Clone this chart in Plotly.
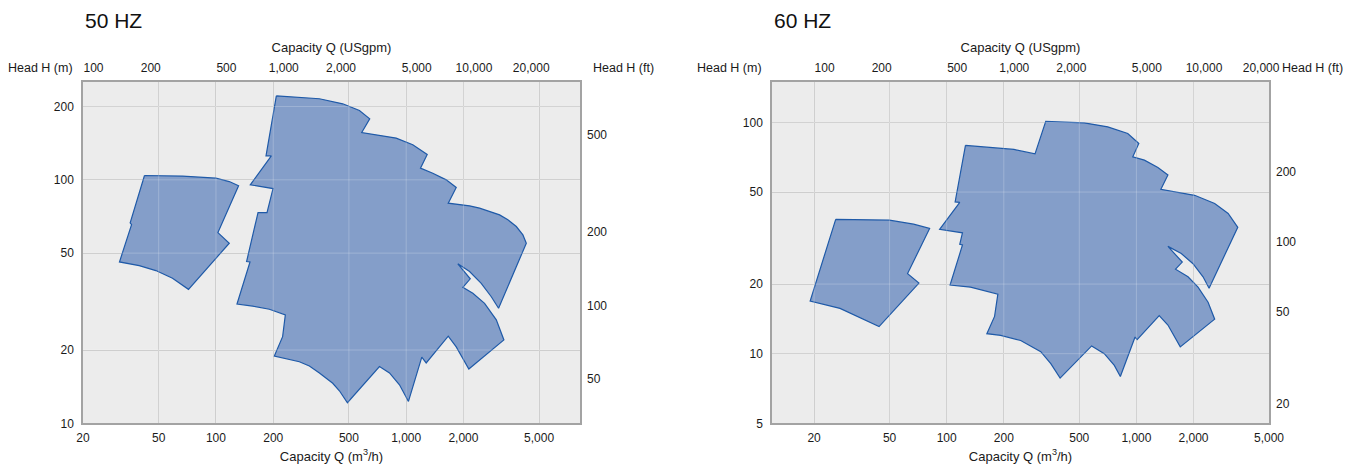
import math
import plotly.graph_objects as go

# ---------------- data (Q in m3/h, H in m) ----------------
# 50 Hz - small range
Q50_A = [42.1, 66.7, 100, 117.5, 131.5, 102.4, 117.5, 71.7, 59.1, 48.3, 39.5, 31.1, 36.0, 35.4]
H50_A = [104.2, 103.6, 101.6, 98.4, 94.5, 60.7, 54.9, 35.5, 39.4, 42.4, 44.4, 46.0, 65.5, 66.6]
# 50 Hz - large range
Q50_B = [207.7, 274.4, 349.8, 463.8, 567.9, 643.3, 583.9, 885.9, 1083, 1290, 1189, 1380, 1624,
         1833, 1664, 2154, 2431, 3098, 3425, 3793, 4108, 4281, 3060, 2802, 2481, 2154, 1869, 2172,
         1986, 2241, 2583, 2977, 3264, 2135, 1986, 1833, 1664, 1274, 1208, 1028, 922, 817, 723.7,
         491, 445.6, 411, 349.8, 309.8, 274.4, 243.1, 202.7, 224.1, 231.6, 190.8, 155.8, 129,
         151, 144.9, 166.4, 185.5, 199.5, 151.5, 195.5, 183.3]
H50_B = [221.4, 218.8, 215.3, 205.3, 192.7, 178.1, 156.5, 148.4, 139.3, 127.1, 111.7, 106.5, 100,
         93.0, 80.2, 78.2, 76.5, 71.8, 68.5, 64.3, 59.4, 54.9, 29.7, 33.1, 37.6, 42.0, 45.2, 39.2,
         36.2, 34.2, 31.1, 26.6, 22.0, 16.7, 18.5, 20.6, 22.8, 17.7, 18.7, 12.3, 14.4, 16.1, 17.1,
         12.15, 13.6, 14.6, 16.1, 17.2, 17.9, 18.3, 18.9, 22.7, 27.9, 29.4, 30.3, 30.9,
         46.0, 46.2, 73.4, 73.4, 92.1, 95.4, 125.5, 125.5]
# 60 Hz - small range
Q60_A = [26.0, 37.9, 49.9, 66.9, 81.3, 62.2, 71.4, 44.0, 34.9, 27.4, 19.07]
H60_A = [38.1, 38.0, 37.8, 36.3, 34.8, 22.2, 20.2, 13.1, 14.3, 15.7, 16.9]
# 60 Hz - large range
Q60_B = [125.6, 192.4, 226.2, 292.2, 332.8, 530.7, 706, 900.4, 1030, 957, 1102, 1298, 1466, 1346,
         2027, 2586, 3045, 3423, 2416, 2245, 1988, 1724, 1466, 1745, 1608, 1871, 2113, 2387, 2586,
         1703, 1589, 1466, 1319, 1009, 984, 823, 764.9, 677.1, 580.8, 396.2, 353.8, 313.2, 245.5,
         192.4, 162.8, 178.8, 186.1, 133.5, 104.2, 121.1, 117.2, 121.1, 91.8, 117.2, 110.8]
H60_B = [79.5, 77.4, 76.4, 73.1, 101.0, 99.6, 95.7, 89.6, 81.1, 71.0, 68.7, 63.9, 59.3, 51.4,
         48.4, 44.6, 40.4, 35.2, 19.2, 21.5, 24.5, 27.1, 29.1, 24.9, 23.2, 21.5, 19.4, 16.7, 14.1,
         10.7, 11.8, 13.3, 14.6, 11.5, 11.8, 7.97, 8.9, 10.0, 10.8, 7.84, 9.05, 10.2, 11.4,
         12.0, 12.2, 14.5, 18.1, 19.4, 19.8, 29.5, 29.7, 33.3, 34.5, 45.1, 45.3]

# axis ranges
Q50_RANGE = [20, 8200]
H50_RANGE = [10, 253]
Q60_RANGE = [12, 5000]
H60_RANGE = [5, 150]

# ticks
Q_TICKS = [20, 50, 100, 200, 500, 1000, 2000, 5000]
Q_TEXT = ["20", "50", "100", "200", "500", "1,000", "2,000", "5,000"]
GPM_TICKS = [100, 200, 500, 1000, 2000, 5000, 10000, 20000]
GPM_TEXT = ["100", "200", "500", "1,000", "2,000", "5,000", "10,000", "20,000"]
H50_TICKS = [10, 20, 50, 100, 200]
H60_TICKS = [5, 10, 20, 50, 100]
FT50_TICKS = [50, 100, 200, 500]
FT60_TICKS = [20, 50, 100, 200]

M3H_TO_GPM = 4.402868
M_TO_FT = 3.28084

# ---------------- styles ----------------
FONT = "Liberation Sans, Arial, Helvetica, sans-serif"
TXT = "#1a1a1a"
BG = "#ececec"
GRID = "#c8c8c8"
GRID_OVER = "rgba(255,255,255,0.22)"
FILL = "#849ec9"
EDGE = "#1f5aa8"
BOX = "#a3a3a3"

# the page body adds an 8px offset, so the figure is 8px smaller than the window
OFF = 8
W, H = 1359 - OFF, 467 - OFF


def px(sx):
    return (sx - OFF) / W


def py(sy):
    return 1 - (sy - OFF) / H


XD1 = [px(83), px(580)]
XD2 = [px(772), px(1269)]
YD = [py(423.3), py(81.7)]

lg = math.log10

fig = go.Figure()


def add_poly(q, h, xa, ya):
    fig.add_trace(go.Scatter(x=q + [q[0]], y=h + [h[0]], xaxis=xa, yaxis=ya,
                             mode="lines", fill="toself", fillcolor=FILL,
                             line=dict(color=EDGE, width=1.2), hoverinfo="skip",
                             showlegend=False))


def add_grid_over(qt, ht, qr, hr, xa, ya):
    xs, ys = [], []
    for v in qt:
        if qr[0] < v < qr[1]:
            xs += [v, v, None]
            ys += [hr[0], hr[1], None]
    for v in ht:
        if hr[0] < v < hr[1]:
            xs += [qr[0], qr[1], None]
            ys += [v, v, None]
    fig.add_trace(go.Scatter(x=xs, y=ys, xaxis=xa, yaxis=ya, mode="lines",
                             line=dict(color=GRID_OVER, width=1), hoverinfo="skip",
                             showlegend=False))


def dummy(xa, ya):
    fig.add_trace(go.Scatter(x=[None], y=[None], xaxis=xa, yaxis=ya, mode="lines",
                             hoverinfo="skip", showlegend=False))


add_poly(Q50_A, H50_A, "x", "y")
add_poly(Q50_B, H50_B, "x", "y")
add_grid_over(Q_TICKS, H50_TICKS, Q50_RANGE, H50_RANGE, "x", "y")
dummy("x2", "y")
dummy("x", "y2")

add_poly(Q60_A, H60_A, "x3", "y3")
add_poly(Q60_B, H60_B, "x3", "y3")
add_grid_over(Q_TICKS, H60_TICKS, Q60_RANGE, H60_RANGE, "x3", "y3")
dummy("x4", "y3")
dummy("x3", "y4")

tickfont = dict(family=FONT, size=12, color=TXT)
titlefont = dict(family=FONT, size=13, color=TXT)
headfont = dict(family=FONT, size=12.5, color=TXT)


def prim_x(domain, rng, anchor):
    return dict(type="log", domain=domain, range=[lg(rng[0]), lg(rng[1])], anchor=anchor,
                tickvals=Q_TICKS, ticktext=Q_TEXT, tickfont=tickfont, ticks="",
                showgrid=True, gridcolor=GRID, gridwidth=1, zeroline=False,
                showline=True, mirror=True, linecolor=BOX, linewidth=1.5,
                title=dict(text="Capacity Q (m<sup>3</sup>/h)", font=titlefont, standoff=7),
                ticklabelstandoff=3, automargin=False, fixedrange=True)


def top_x(over, rng, anchor):
    return dict(type="log", overlaying=over, side="top", anchor=anchor,
                range=[lg(rng[0] * M3H_TO_GPM), lg(rng[1] * M3H_TO_GPM)],
                tickvals=GPM_TICKS, ticktext=GPM_TEXT, tickfont=tickfont, ticks="",
                showgrid=False, zeroline=False, showline=False,
                title=dict(text="Capacity Q (USgpm)", font=titlefont, standoff=5),
                ticklabelstandoff=6, automargin=False, fixedrange=True)


def prim_y(rng, anchor, tv):
    return dict(type="log", domain=YD, range=[lg(rng[0]), lg(rng[1])], anchor=anchor,
                tickvals=tv, ticktext=[str(v) for v in tv], tickfont=tickfont, ticks="",
                showgrid=True, gridcolor=GRID, gridwidth=1, zeroline=False,
                showline=True, mirror=True, linecolor=BOX, linewidth=1.5,
                ticklabelstandoff=5, automargin=False, fixedrange=True)


def right_y(over, rng, anchor, tv):
    return dict(type="log", overlaying=over, side="right", anchor=anchor,
                range=[lg(rng[0] * M_TO_FT), lg(rng[1] * M_TO_FT)],
                tickvals=tv, ticktext=[str(v) for v in tv], tickfont=tickfont, ticks="",
                showgrid=False, zeroline=False, showline=False,
                ticklabelstandoff=6, automargin=False, fixedrange=True)


annos = []
for sl, sr, label in [(83, 580, "50 HZ"), (772, 1269, "60 HZ")]:
    annos.append(dict(text=label, x=px(sl), y=py(20.5), xref="paper", yref="paper",
                      xanchor="left", yanchor="middle", showarrow=False,
                      font=dict(family=FONT, size=21, color="#111111")))
    annos.append(dict(text="Head H (m)", x=px(sl - 8.5), y=py(67.5), xref="paper",
                      yref="paper", xanchor="right", yanchor="middle", showarrow=False,
                      font=headfont))
    annos.append(dict(text="Head H (ft)", x=px(sr + 11), y=py(67.5), xref="paper",
                      yref="paper", xanchor="left", yanchor="middle", showarrow=False,
                      font=headfont))

fig.update_layout(
    width=W, height=H,
    margin=dict(l=0, r=0, t=0, b=0, pad=0, autoexpand=False),
    paper_bgcolor="white", plot_bgcolor=BG,
    font=dict(family=FONT, color=TXT),
    showlegend=False,
    xaxis=prim_x(XD1, Q50_RANGE, "y"),
    xaxis2=top_x("x", Q50_RANGE, "y"),
    yaxis=prim_y(H50_RANGE, "x", H50_TICKS),
    yaxis2=right_y("y", H50_RANGE, "x", FT50_TICKS),
    xaxis3=prim_x(XD2, Q60_RANGE, "y3"),
    xaxis4=top_x("x3", Q60_RANGE, "y3"),
    yaxis3=prim_y(H60_RANGE, "x3", H60_TICKS),
    yaxis4=right_y("y3", H60_RANGE, "x3", FT60_TICKS),
    annotations=annos,
)

fig.write_html("out.html")
